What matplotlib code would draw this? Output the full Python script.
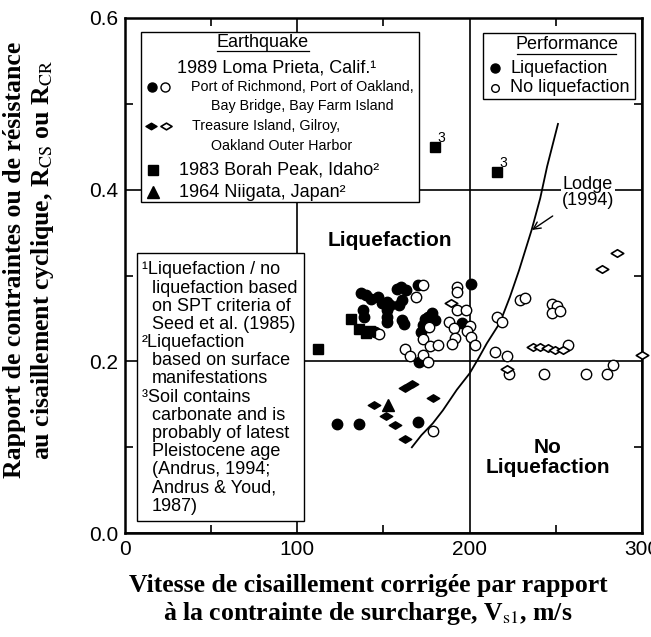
import numpy as np
import matplotlib
matplotlib.use('Agg')
import matplotlib.pyplot as plt
from matplotlib.path import Path
from matplotlib.patches import Rectangle

plt.rcParams['font.family'] = ['Liberation Sans', 'DejaVu Sans']
plt.rcParams['mathtext.fontset'] = 'stix'

# Loma Prieta - Port of Richmond / Oakland, Bay Bridge, Bay Farm Island
lp_liq_x = [123, 136, 170, 170.6, 137, 140, 143, 147, 149, 152, 154, 158, 160, 163,
            161, 159, 152, 152, 152, 138, 139, 161, 162, 174, 176, 178, 180, 173,
            172, 145, 201, 195.5, 170]
lp_liq_y = [0.127, 0.127, 0.129, 0.199, 0.280, 0.277, 0.273, 0.275, 0.268, 0.269, 0.266,
            0.284, 0.287, 0.283, 0.271, 0.266, 0.260, 0.252, 0.246, 0.260, 0.252, 0.248,
            0.244, 0.249, 0.252, 0.256, 0.248, 0.242, 0.234, 0.234, 0.290, 0.245, 0.289]
lp_noliq_x = [179, 169, 147.4, 176.5, 173, 162.5, 165.4, 173, 177, 181.6, 172.8, 176,
              192.5, 192.5, 192.5, 197.8, 188, 191, 200, 198.4, 201, 203, 191.5, 189.6,
              215, 221.5, 229, 232, 216, 219, 248, 250.5, 248, 252.5, 223, 243, 267.5,
              280, 283, 257]
lp_noliq_y = [0.119, 0.275, 0.232, 0.240, 0.289, 0.214, 0.206, 0.226, 0.218, 0.219, 0.207,
              0.199, 0.287, 0.281, 0.260, 0.260, 0.246, 0.239, 0.241, 0.235, 0.228, 0.219,
              0.227, 0.220, 0.211, 0.206, 0.271, 0.274, 0.252, 0.246, 0.267, 0.264, 0.256,
              0.259, 0.185, 0.185, 0.185, 0.185, 0.196, 0.219]

# Loma Prieta - Treasure Island, Gilroy, Oakland Outer Harbor
ti_liq_x = [166.5, 162.5, 178.6, 144.5, 151.5, 157, 162.3]
ti_liq_y = [0.174, 0.169, 0.157, 0.149, 0.136, 0.126, 0.110]
ti_noliq_x = [189.5, 237, 241, 245.5, 249.5, 254, 277, 285.5, 300, 222]
ti_noliq_y = [0.268, 0.217, 0.217, 0.216, 0.213, 0.213, 0.308, 0.326, 0.207, 0.191]

# 1983 Borah Peak, 1964 Niigata
borah_x = [112, 131, 136, 140, 142, 180, 216]
borah_y = [0.214, 0.249, 0.238, 0.233, 0.235, 0.450, 0.421]
niigata_x = [152.4]
niigata_y = [0.149]

# Lodge (1994) boundary
lodge_x = [166.5, 172, 178.7, 184.5, 192.6, 200, 205, 210, 217.6, 223.4, 228.7, 236, 241, 245, 251.3]
lodge_y = [0.100, 0.114, 0.128, 0.143, 0.167, 0.186, 0.203, 0.221, 0.245, 0.275, 0.306, 0.353,
           0.390, 0.427, 0.4765]

diamond = Path([(-1, 0), (0, 0.6), (1, 0), (0, -0.6), (-1, 0)],
               [Path.MOVETO, Path.LINETO, Path.LINETO, Path.LINETO, Path.CLOSEPOLY])

fig = plt.figure(figsize=(6.51, 6.37), dpi=100)
ax = fig.add_axes([0.192, 0.163, 0.794, 0.809])

ax.set_xlim(0, 300)
ax.set_ylim(0, 0.6)
ax.set_xticks([0, 100, 200, 300])
ax.set_yticks([0, 0.2, 0.4, 0.6])
ax.set_yticklabels(['0.0', '0.2', '0.4', '0.6'])
ax.set_xticks([50, 150, 250], minor=True)
ax.set_yticks([0.1, 0.3, 0.5], minor=True)
ax.tick_params(which='both', direction='in', top=True, right=True, labelsize=15, width=1.2)
ax.tick_params(which='major', length=0, pad=5)
ax.tick_params(which='minor', length=6)
ax.grid(True, which='major', color='black', lw=1.2)
ax.set_axisbelow(True)
for s in ax.spines.values():
    s.set_linewidth(1.8)

ax.plot(lodge_x, lodge_y, color='black', lw=1.3, zorder=2)

ax.plot(lp_liq_x, lp_liq_y, 'o', color='black', ms=7.5, zorder=3)
ax.plot(lp_noliq_x, lp_noliq_y, 'o', mfc='white', mec='black', mew=1.0, ms=7.5, zorder=3)
ax.plot(ti_liq_x, ti_liq_y, marker=diamond, ls='none', color='black', ms=9, zorder=3)
ax.plot(ti_noliq_x, ti_noliq_y, marker=diamond, ls='none', mfc='white', mec='black',
        mew=1.2, ms=9, zorder=3, clip_on=False)
ax.plot(borah_x, borah_y, 's', color='black', ms=7, zorder=3)
ax.plot(niigata_x, niigata_y, '^', color='black', ms=8, zorder=3)

ax.text(181.5, 0.452, '3', fontsize=10, va='bottom')
ax.text(217.5, 0.423, '3', fontsize=10, va='bottom')

ax.text(153.8, 0.341, 'Liquefaction', fontsize=15, fontweight='bold', ha='center', va='center')
ax.text(245.5, 0.088, 'No\nLiquefaction', fontsize=15, fontweight='bold', ha='center',
        va='center', linespacing=1.1)
ax.annotate('Lodge\n(1994)', xy=(236.2, 0.353), xytext=(268.7, 0.397), fontsize=13,
            ha='center', va='center', linespacing=0.95,
            bbox=dict(boxstyle='square,pad=0.05', fc='white', ec='none'),
            arrowprops=dict(arrowstyle='->', color='black', lw=1.0, shrinkA=8, shrinkB=0))

T = ax.transAxes

def box(x0, y0, x1, y1):
    ax.add_patch(Rectangle((x0, y0), x1 - x0, y1 - y0, transform=T, fc='white',
                           ec='black', lw=1.0, zorder=5, clip_on=False))

def mark(x, y, **kw):
    ax.plot([x], [y], transform=T, clip_on=False, zorder=6, ls='none', **kw)

def txt(x, y, s, size, ha='left'):
    ax.text(x, y, s, transform=T, fontsize=size, ha=ha, va='center', zorder=6)

def underline(x0, x1, y):
    ax.plot([x0, x1], [y, y], transform=T, color='black', lw=0.9, zorder=6, clip_on=False)

# Earthquake legend
box(0.031, 0.643, 0.569, 0.973)
txt(0.267, 0.953, 'Earthquake', 13, ha='center')
underline(0.178, 0.356, 0.936)
txt(0.294, 0.903, '1989 Loma Prieta, Calif.\u00b9', 13, ha='center')
mark(0.052, 0.866, marker='o', color='black', ms=6.5)
mark(0.077, 0.866, marker='o', mfc='white', mec='black', ms=6.5, mew=1.0)
txt(0.128, 0.866, 'Port of Richmond, Port of Oakland,', 10.3)
txt(0.166, 0.829, 'Bay Bridge, Bay Farm Island', 10.3)
mark(0.050, 0.790, marker=diamond, color='black', ms=8)
mark(0.080, 0.790, marker=diamond, mfc='white', mec='black', ms=8, mew=1.2)
txt(0.130, 0.790, 'Treasure Island, Gilroy,', 10.3)
txt(0.166, 0.751, 'Oakland Outer Harbor', 10.3)
mark(0.054, 0.705, marker='s', color='black', ms=7)
txt(0.104, 0.705, '1983 Borah Peak, Idaho\u00b2', 13)
mark(0.054, 0.662, marker='^', color='black', ms=8)
txt(0.104, 0.662, '1964 Niigata, Japan\u00b2', 13)

# Performance legend
box(0.692, 0.843, 0.986, 0.971)
txt(0.855, 0.948, 'Performance', 13, ha='center')
underline(0.759, 0.950, 0.930)
mark(0.716, 0.902, marker='o', color='black', ms=6.5)
txt(0.745, 0.902, 'Liquefaction', 13)
mark(0.716, 0.864, marker='o', mfc='white', mec='black', ms=5.5, mew=1.0)
txt(0.745, 0.864, 'No liquefaction', 13)

# footnotes
box(0.023, 0.023, 0.346, 0.544)
notes = ['\u00b9Liquefaction / no', 'liquefaction based', 'on SPT criteria of',
         'Seed et al. (1985)', '\u00b2Liquefaction', 'based on surface', 'manifestations',
         '\u00b3Soil contains', 'carbonate and is', 'probably of latest',
         'Pleistocene age', '(Andrus, 1994;', 'Andrus & Youd,', '1987)']
for i, s in enumerate(notes):
    x = 0.033 if s[0] in '\u00b9\u00b2\u00b3' else 0.052
    txt(x, 0.511 - 0.0353 * i, s, 13)

lab = dict(fontsize=18.5, fontweight='bold', family='Liberation Serif', ha='center',
           va='center', linespacing=1.15)
fig.text(0.565, 0.058, 'Vitesse de cisaillement corrigée par rapport\n'
         'à la contrainte de surcharge, V$_{\\mathrm{s1}}$, m/s', **lab)
fig.text(0.045, 0.592, 'Rapport de contraintes ou de résistance\n'
         'au cisaillement cyclique, R$_{\\mathrm{CS}}$ ou R$_{\\mathrm{CR}}$',
         rotation=90, **lab)

fig.savefig('out.png', dpi=100)
